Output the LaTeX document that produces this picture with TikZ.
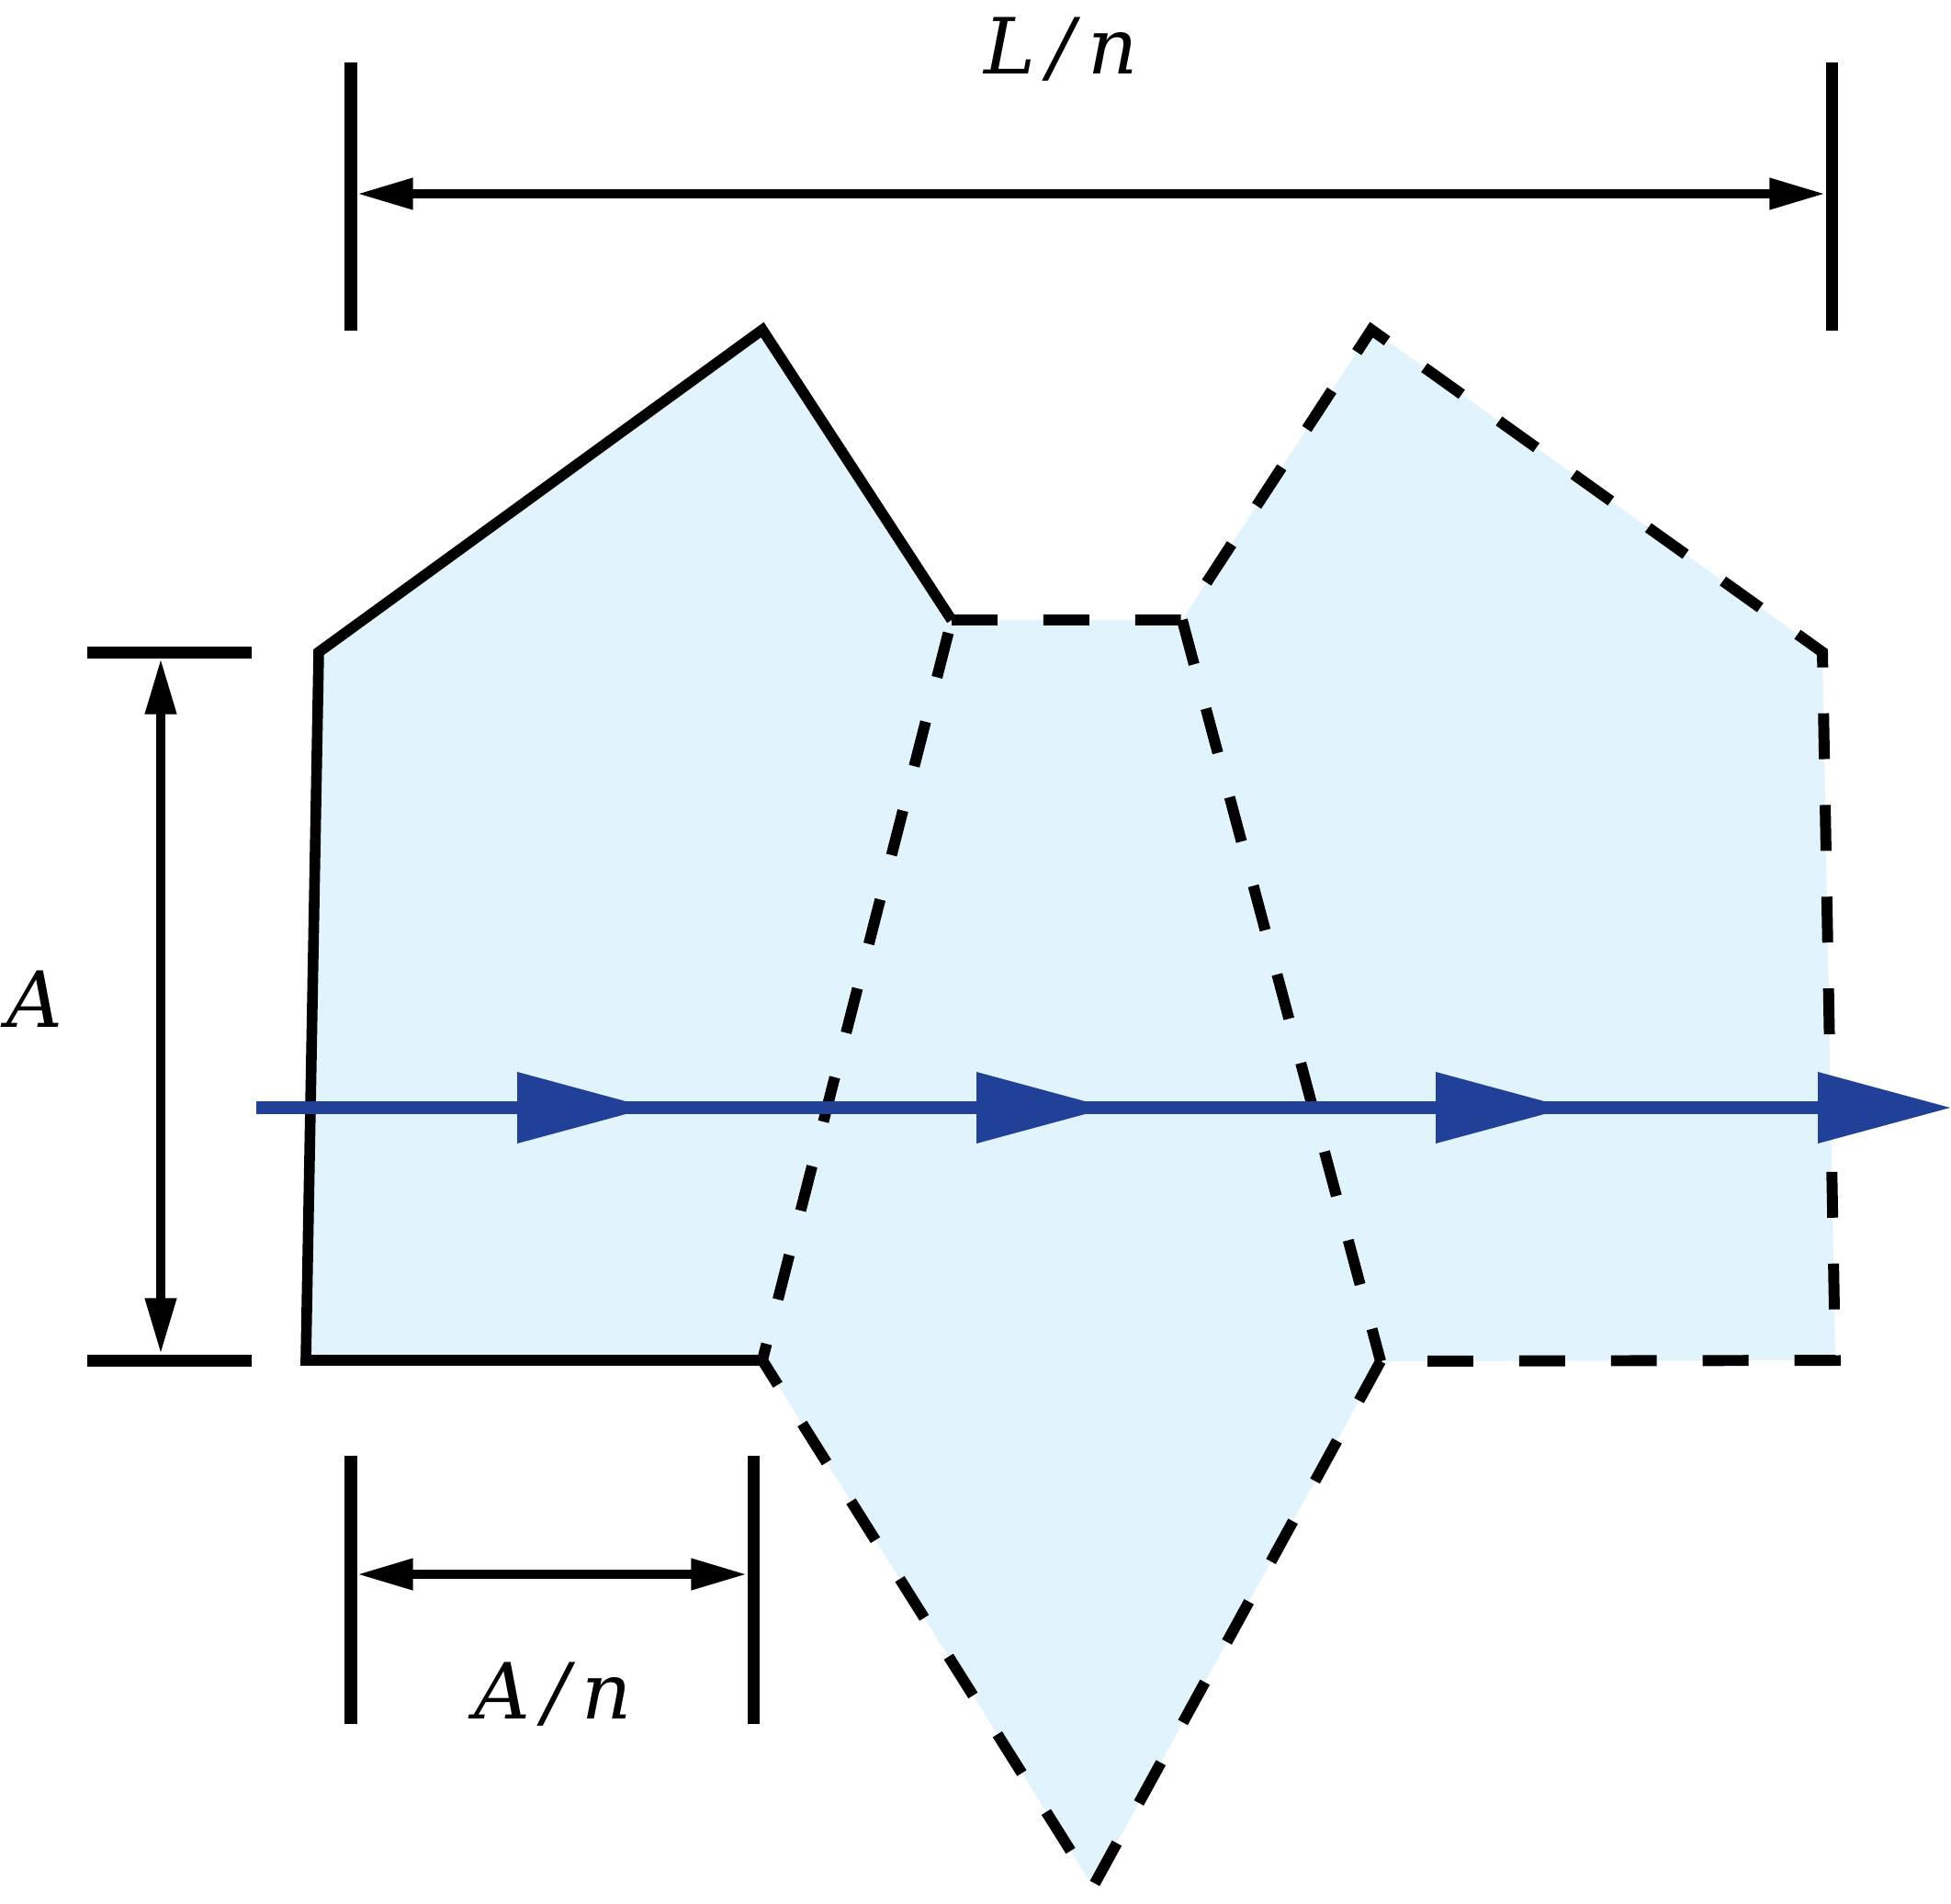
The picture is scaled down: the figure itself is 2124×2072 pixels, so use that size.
\documentclass[tikz,border=0pt]{standalone}
\usepackage{tikz}
\usepackage{fontspec}
\usetikzlibrary{arrows.meta}
\newfontfamily\labelfont{DejaVu Serif}
\definecolor{cellfill}{RGB}{225,244,253}
\definecolor{flowblue}{RGB}{33,64,152}

\begin{document}
\begin{tikzpicture}[x=0.01cm, y=-0.01cm,
		edge/.style={line width=3.3pt},
		cut/.style={line width=3.4pt, dash pattern=on 14.2pt off 14.2pt},
		tick/.style={line width=3.7pt},
		dim/.style={line width=3.1pt, {Triangle[length=17.5pt,width=9pt]}-{Triangle[length=17.5pt,width=9pt]}},
		flow/.style={line width=4pt, color=flowblue},
		lab/.style={anchor=base, inner sep=0pt, font=\labelfont\itshape\fontsize{24}{29}\selectfont}]
		%%%%% START %%%%%
		
		\useasboundingbox (0, 0) rectangle (2124, 2072);
		
		% cell outline
		\coordinate (p1) at (333, 1481);
		\coordinate (p2) at (347, 710);
		\coordinate (p3) at (830, 359);
		\coordinate (p4) at (1036, 675);
		\coordinate (p5) at (1287, 675);
		\coordinate (p6) at (1493, 359);
		\coordinate (p7) at (1984, 710);
		\coordinate (p8) at (1998, 1481);
		\coordinate (p9) at (1503, 1482);
		\coordinate (p10) at (1190, 2054);
		\coordinate (p11) at (830, 1481);
		
		\fill[cellfill] (p1) -- (p2) -- (p3) -- (p4) -- (p5) -- (p6) -- (p7) -- (p8) -- (p9) -- (p10) -- (p11) -- cycle;
		
		\draw[edge] (p11) -- (p1) -- (p2) -- (p3) -- (p4);
		\draw[cut] (p4) -- (p5) -- (p6) -- (p7) -- (p8) -- (p9) -- (p10) -- (p11) -- (p4);
		\draw[cut] (p5) -- (p9);
		
		% flow line
		\coordinate (fin) at (279, 1206);
		\coordinate (fout) at (1979, 1206);
		\draw[flow] (fin) -- (fout);
		\fill[flowblue] (563, 1167) -- (707, 1206) -- (563, 1245) -- cycle;
		\fill[flowblue] (1063, 1167) -- (1207, 1206) -- (1063, 1245) -- cycle;
		\fill[flowblue] (1563, 1167) -- (1707, 1206) -- (1563, 1245) -- cycle;
		\fill[flowblue] (1979, 1167) -- (2123, 1206) -- (1979, 1245) -- cycle;
		
		% top dimension L/n
		\draw[tick] (382, 68) -- (382, 360);
		\draw[tick] (1994, 68) -- (1994, 360);
		\coordinate (ltop) at (388, 211);
		\coordinate (rtop) at (1988, 211);
		\draw[dim] (ltop) -- (rtop);
		\node[lab] (Ln) at (1155, 80) {L\,/\,n};
		
		% left dimension A
		\draw[tick] (95, 710) -- (274, 710);
		\draw[tick] (95, 1481) -- (274, 1481);
		\coordinate (aup) at (175, 716);
		\coordinate (adown) at (175, 1475);
		\draw[dim] (aup) -- (adown);
		\node[lab] (A) at (38, 1118) {A};
		
		% bottom dimension A/n
		\draw[tick] (382, 1585) -- (382, 1877);
		\draw[tick] (820, 1585) -- (820, 1877);
		\coordinate (lbot) at (388, 1714);
		\coordinate (rbot) at (814, 1714);
		\draw[dim] (lbot) -- (rbot);
		\node[lab] (An) at (602, 1871) {A\,/\,n};
		
		%%%%% END %%%%%
	\end{tikzpicture}
\end{document}
